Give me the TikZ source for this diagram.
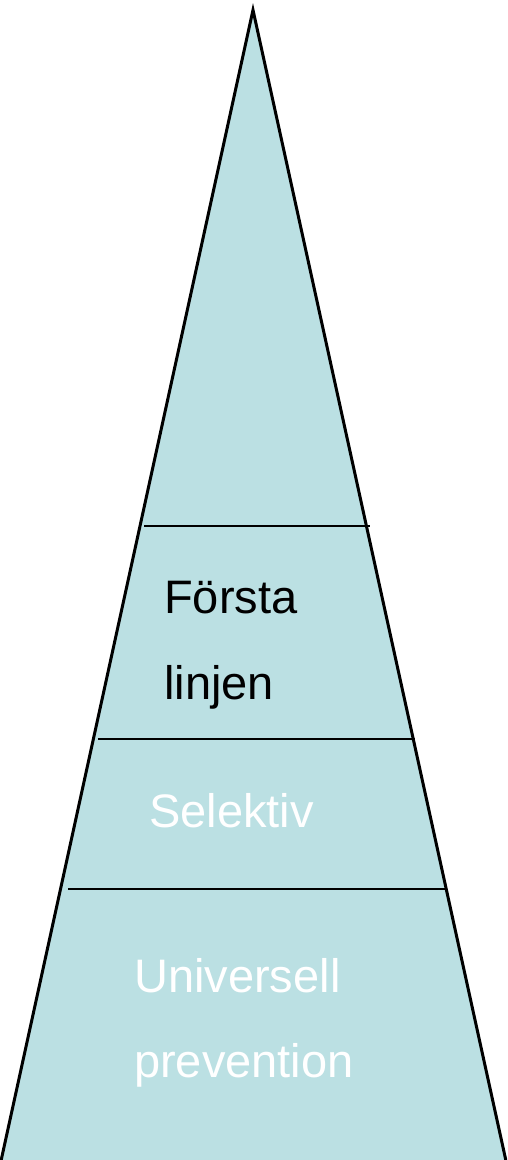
\documentclass[tikz,border=0pt]{standalone}
\usepackage{fontspec}
\setmainfont{Liberation Sans}
\definecolor{pyr}{HTML}{BBE0E3}
\begin{document}
\begin{tikzpicture}[x=1pt,y=-1pt,
  divider/.style={black,line width=2.8pt},
  lbl/.style={anchor=base west,inner sep=0pt,font=\fontsize{47}{56}\selectfont}]
\useasboundingbox (0,0) rectangle (507,1160);
\clip (0,0) rectangle (507,1160);
\coordinate (apex) at (253,10);
\coordinate (bl) at (-1,1170);
\coordinate (br) at (508,1170);
\filldraw[fill=pyr,draw=black,line width=3pt,line join=miter] (bl) -- (apex) -- (br) -- cycle;
\coordinate (d1a) at (144,526); \coordinate (d1b) at (370,526);
\coordinate (d2a) at (98,739);  \coordinate (d2b) at (415,739);
\coordinate (d3a) at (68,889);  \coordinate (d3b) at (446,889);
\draw[divider] (d1a) -- (d1b);
\draw[divider] (d2a) -- (d2b);
\draw[divider] (d3a) -- (d3b);
\node[lbl,text=black] (t1) at (164,613) {Första};
\node[lbl,text=black] (t2) at (164,699) {linjen};
\node[lbl,text=white] (t3) at (149,827) {Selektiv};
\node[lbl,text=white] (t4) at (134,992) {Universell};
\node[lbl,text=white] (t5) at (134,1077) {prevention};
\end{tikzpicture}
\end{document}
